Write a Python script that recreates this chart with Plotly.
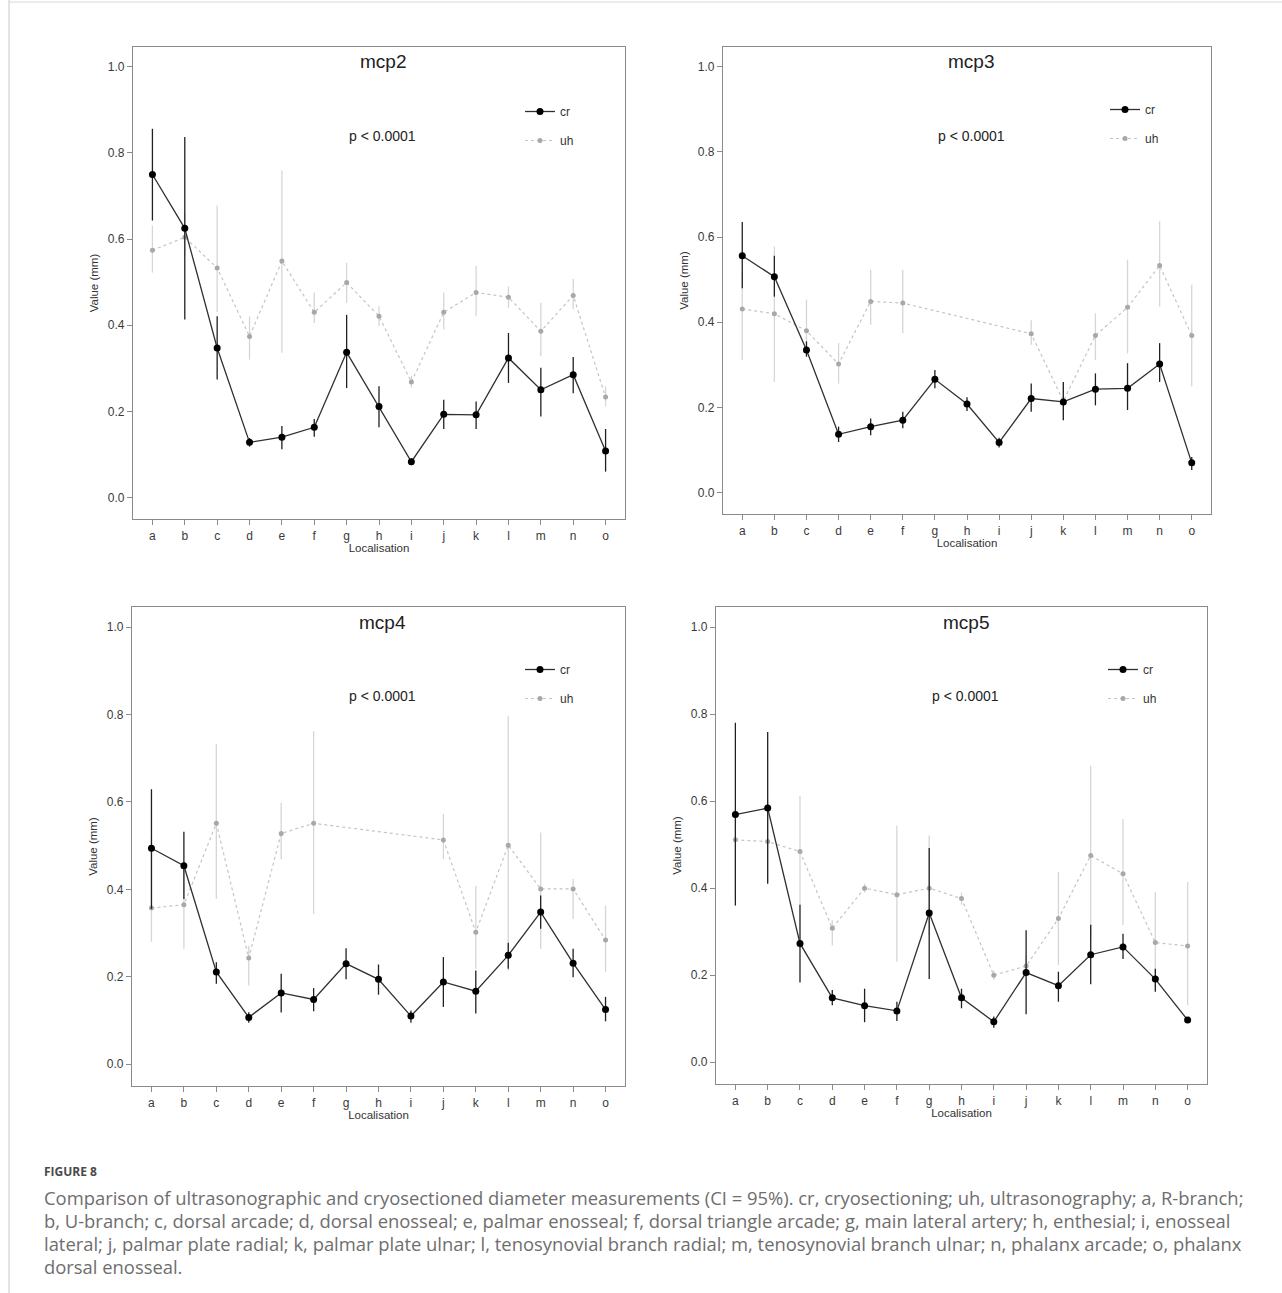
import plotly.graph_objects as go

categories = ["a", "b", "c", "d", "e", "f", "g", "h", "i", "j", "k", "l", "m", "n", "o"]
y_ticks = [0.0, 0.2, 0.4, 0.6, 0.8, 1.0]
panel_names = ["mcp2", "mcp3", "mcp4", "mcp5"]
p_label = "p < 0.0001"

# ---- mcp2 ----
mcp2_cr = [0.750, 0.625, 0.347, 0.128, 0.140, 0.163, 0.337, 0.211, 0.083, 0.193, 0.192, 0.324, 0.250, 0.285, 0.108]
mcp2_cr_lo = [0.643, 0.413, 0.274, 0.118, 0.112, 0.141, 0.254, 0.163, 0.075, 0.159, 0.159, 0.266, 0.188, 0.242, 0.060]
mcp2_cr_hi = [0.856, 0.837, 0.421, 0.138, 0.166, 0.182, 0.424, 0.258, 0.091, 0.227, 0.223, 0.382, 0.301, 0.326, 0.159]
mcp2_uh = [0.574, 0.604, 0.533, 0.374, 0.549, 0.430, 0.499, 0.421, 0.268, 0.430, 0.476, 0.465, 0.386, 0.469, 0.233]
mcp2_uh_lo = [0.522, 0.560, 0.430, 0.320, 0.336, 0.405, 0.452, 0.398, 0.255, 0.390, 0.421, 0.440, 0.328, 0.437, 0.211]
mcp2_uh_hi = [0.631, 0.660, 0.678, 0.420, 0.759, 0.476, 0.545, 0.444, 0.282, 0.476, 0.538, 0.490, 0.452, 0.507, 0.258]

# ---- mcp3 ----
mcp3_cr = [0.556, 0.507, 0.335, 0.137, 0.155, 0.170, 0.266, 0.208, 0.118, 0.221, 0.213, 0.243, 0.245, 0.302, 0.070]
mcp3_cr_lo = [0.480, 0.460, 0.319, 0.119, 0.135, 0.151, 0.245, 0.192, 0.106, 0.190, 0.170, 0.205, 0.194, 0.260, 0.053]
mcp3_cr_hi = [0.635, 0.556, 0.355, 0.155, 0.174, 0.190, 0.288, 0.224, 0.129, 0.256, 0.260, 0.280, 0.304, 0.351, 0.084]
mcp3_uh = [0.431, 0.420, 0.380, 0.302, 0.449, 0.445, None, None, None, 0.373, 0.215, 0.369, 0.435, 0.533, 0.369]
mcp3_uh_lo = [0.311, 0.260, 0.327, 0.256, 0.394, 0.374, None, None, None, 0.347, 0.170, 0.311, 0.327, 0.437, 0.249]
mcp3_uh_hi = [0.515, 0.578, 0.453, 0.351, 0.523, 0.523, None, None, None, 0.405, 0.260, 0.421, 0.547, 0.637, 0.488]

# ---- mcp4 ----
mcp4_cr = [0.494, 0.454, 0.211, 0.107, 0.163, 0.148, 0.230, 0.194, 0.110, 0.188, 0.167, 0.249, 0.348, 0.231, 0.125]
mcp4_cr_lo = [0.355, 0.378, 0.184, 0.095, 0.118, 0.121, 0.194, 0.159, 0.095, 0.131, 0.116, 0.218, 0.310, 0.199, 0.098]
mcp4_cr_hi = [0.629, 0.532, 0.233, 0.119, 0.207, 0.174, 0.265, 0.228, 0.123, 0.245, 0.214, 0.278, 0.386, 0.264, 0.154]
mcp4_uh = [0.357, 0.365, 0.551, 0.243, 0.528, 0.551, None, None, None, 0.513, 0.302, 0.501, 0.401, 0.401, 0.284]
mcp4_uh_lo = [0.280, 0.264, 0.378, 0.180, 0.469, 0.344, None, None, None, 0.469, 0.218, 0.214, 0.264, 0.332, 0.211]
mcp4_uh_hi = [0.520, 0.454, 0.732, 0.271, 0.598, 0.762, None, None, None, 0.572, 0.408, 0.796, 0.530, 0.424, 0.363]

# ---- mcp5 ----
mcp5_cr = [0.569, 0.584, 0.273, 0.148, 0.130, 0.118, 0.343, 0.148, 0.093, 0.206, 0.176, 0.247, 0.265, 0.191, 0.097]
mcp5_cr_lo = [0.360, 0.410, 0.183, 0.131, 0.092, 0.095, 0.191, 0.124, 0.079, 0.110, 0.139, 0.179, 0.237, 0.162, 0.090]
mcp5_cr_hi = [0.780, 0.759, 0.362, 0.166, 0.169, 0.139, 0.492, 0.169, 0.105, 0.303, 0.208, 0.316, 0.295, 0.215, 0.104]
mcp5_uh = [0.511, 0.507, 0.484, 0.308, 0.400, 0.385, 0.400, 0.376, 0.200, 0.221, 0.330, 0.475, 0.433, 0.275, 0.267]
mcp5_uh_lo = [0.376, 0.414, 0.360, 0.269, 0.390, 0.231, 0.292, 0.362, 0.189, 0.200, 0.223, 0.284, 0.315, 0.169, 0.131]
mcp5_uh_hi = [0.582, 0.605, 0.612, 0.326, 0.410, 0.544, 0.521, 0.390, 0.211, 0.246, 0.437, 0.681, 0.559, 0.391, 0.414]

caption_label = "FIGURE 8"
caption_lines = [
    "Comparison of ultrasonographic and cryosectioned diameter measurements (CI = 95%). cr, cryosectioning; uh, ultrasonography; a, R-branch;",
    "b, U-branch; c, dorsal arcade; d, dorsal enosseal; e, palmar enosseal; f, dorsal triangle arcade; g, main lateral artery; h, enthesial; i, enosseal",
    "lateral; j, palmar plate radial; k, palmar plate ulnar; l, tenosynovial branch radial; m, tenosynovial branch ulnar; n, phalanx arcade; o, phalanx",
    "dorsal enosseal.",
]

panels = [
    (mcp2_cr, mcp2_cr_lo, mcp2_cr_hi, mcp2_uh, mcp2_uh_lo, mcp2_uh_hi),
    (mcp3_cr, mcp3_cr_lo, mcp3_cr_hi, mcp3_uh, mcp3_uh_lo, mcp3_uh_hi),
    (mcp4_cr, mcp4_cr_lo, mcp4_cr_hi, mcp4_uh, mcp4_uh_lo, mcp4_uh_hi),
    (mcp5_cr, mcp5_cr_lo, mcp5_cr_hi, mcp5_uh, mcp5_uh_lo, mcp5_uh_hi),
]

W, H = 1282, 1293
# panel frames in pixels: (left, right, top, bottom)
frames = [(133, 625, 47, 519), (723, 1211, 47, 514), (132, 625, 607, 1086), (716, 1207, 607, 1084)]
legend_pos = [(520, 97), (1105, 95), (520, 655), (1103, 655)]

FONT = "Liberation Sans, Arial, sans-serif"
fig = go.Figure()


def diff(a, b):
    return [None if (x is None or y is None) else x - y for x, y in zip(a, b)]


layout = {}
annotations = []
for i, (cr, cr_lo, cr_hi, uh, uh_lo, uh_hi) in enumerate(panels):
    n = i + 1
    xa = "x" if n == 1 else f"x{n}"
    ya = "y" if n == 1 else f"y{n}"
    lg = "legend" if n == 1 else f"legend{n}"
    fig.add_trace(go.Scatter(
        x=categories, y=uh, xaxis=xa, yaxis=ya, name="uh", legend=lg, legendgroup=f"uh{n}",
        mode="lines+markers", connectgaps=True,
        line=dict(color="#c4c4c4", width=1.2, dash="dot"),
        marker=dict(color="#a8a8a8", size=5, symbol="circle"),
        error_y=dict(type="data", symmetric=False, array=diff(uh_hi, uh), arrayminus=diff(uh, uh_lo),
                     color="#d6d6d6", thickness=1.3, width=0),
        legendrank=2,
    ))
    fig.add_trace(go.Scatter(
        x=categories, y=cr, xaxis=xa, yaxis=ya, name="cr", legend=lg, legendgroup=f"cr{n}",
        mode="lines+markers",
        line=dict(color="#303030", width=1.3),
        marker=dict(color="#000000", size=7, symbol="circle"),
        error_y=dict(type="data", symmetric=False, array=diff(cr_hi, cr), arrayminus=diff(cr, cr_lo),
                     color="#202020", thickness=1.3, width=0),
        legendrank=1,
    ))
    l, r, t, b = frames[i]
    xkey = "xaxis" if n == 1 else f"xaxis{n}"
    ykey = "yaxis" if n == 1 else f"yaxis{n}"
    layout[xkey] = dict(
        domain=[l / W, r / W], anchor=ya, type="category", range=[-0.6, 14.6],
        showline=True, mirror=True, linecolor="#8a8a8a", linewidth=1.2,
        ticks="outside", ticklen=5, tickcolor="#8a8a8a", tickwidth=1,
        tickfont=dict(family=FONT, size=12, color="#3a3a3a"),
        showgrid=False, zeroline=False,
        title=dict(text="Localisation", font=dict(family=FONT, size=11.5, color="#333"), standoff=2),
    )
    layout[ykey] = dict(
        domain=[1 - b / H, 1 - t / H], anchor=xa, range=[-0.05, 1.046],
        tickvals=y_ticks, ticktext=[f"{v:.1f}" for v in y_ticks],
        showline=True, mirror=True, linecolor="#8a8a8a", linewidth=1.2,
        ticks="outside", ticklen=5, tickcolor="#8a8a8a", tickwidth=1,
        tickfont=dict(family=FONT, size=12, color="#3a3a3a"),
        showgrid=False, zeroline=False,
        title=dict(text="Value (mm)", font=dict(family=FONT, size=11.5, color="#333"), standoff=6),
    )
    lx, ly = legend_pos[i]
    layout[lg] = dict(
        x=lx / W, y=1 - ly / H, xanchor="left", yanchor="top",
        bgcolor="rgba(0,0,0,0)", tracegroupgap=10, traceorder="grouped",
        font=dict(family=FONT, size=12, color="#333"), itemwidth=30,
    )
    cx = (l + r) / 2 / W
    annotations.append(dict(text=panel_names[i], x=cx + 4 / W, y=1 - (t + 15) / H, xref="paper", yref="paper",
                            showarrow=False, font=dict(family=FONT, size=19, color="#222"),
                            xanchor="center", yanchor="middle"))
    annotations.append(dict(text=p_label, x=cx + 4 / W, y=1 - (t + 89) / H, xref="paper", yref="paper",
                            showarrow=False, font=dict(family=FONT, size=14, color="#222"),
                            xanchor="center", yanchor="middle"))

CAP_FONT = "Open Sans, Noto Sans, sans-serif"
annotations.append(dict(text="<b>" + caption_label + "</b>", x=42 / W, y=1 - 1171 / H, xref="paper", yref="paper",
                        showarrow=False, xanchor="left", yanchor="middle",
                        font=dict(family=CAP_FONT, size=12, color="#4a4a4a")))
for k, line in enumerate(caption_lines):
    annotations.append(dict(text=line, x=42 / W, y=1 - (1197.5 + 23.1 * k) / H, xref="paper", yref="paper",
                            showarrow=False, xanchor="left", yanchor="middle",
                            font=dict(family=CAP_FONT, size=18.4, color="#6e6e6e")))

shapes = [
    dict(type="line", xref="paper", yref="paper", x0=9 / W, x1=9 / W, y0=0, y1=1, line=dict(color="#c8c8c8", width=1)),
    dict(type="line", xref="paper", yref="paper", x0=9 / W, x1=1, y0=1 - 2 / H, y1=1 - 2 / H, line=dict(color="#d8d8d8", width=1)),
]

fig.update_layout(
    width=W, height=H, margin=dict(l=0, r=0, t=0, b=0),
    paper_bgcolor="white", plot_bgcolor="white",
    annotations=annotations, shapes=shapes, showlegend=True,
    **layout,
)
fig.write_html("out.html", config={"displayModeBar": False},
               post_script="document.body.style.margin='0px';")
